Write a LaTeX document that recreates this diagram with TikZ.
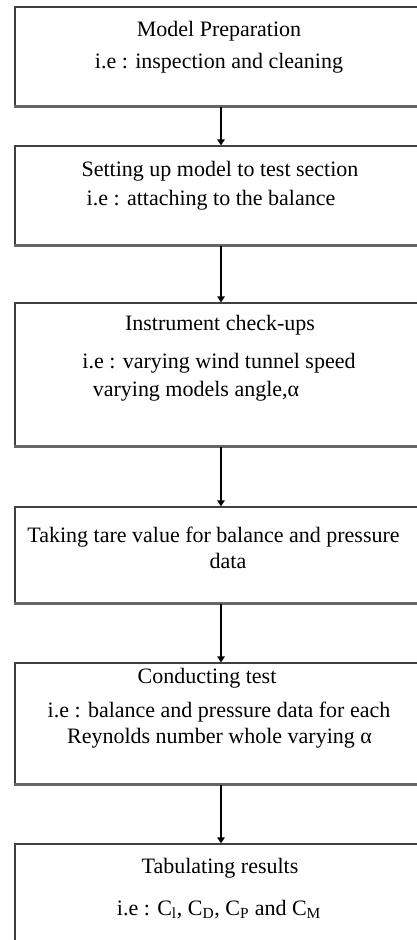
\documentclass[tikz,border=0pt]{standalone}
\usepackage{fontspec}
\setmainfont{Liberation Serif}
\usetikzlibrary{arrows.meta}
\begin{document}
\begin{tikzpicture}[x=0.75pt, y=-0.75pt,
    stepbox/.style={draw=black!75, line width=0.9pt, minimum width=309pt, inner sep=0pt},
    boxfoot/.style={draw=black!60, line width=1.8pt},
    flow/.style={line width=1.3pt, -{Triangle[width=5.5pt,length=4.5pt]}},
    steptext/.style={anchor=base, inner sep=0pt, font=\fontsize{16.5}{19.8}\selectfont}]
    \useasboundingbox (0,0) rectangle (417,940);
    \pgfmathsetmacro{\boxx}{221} %all boxes share one centre line
    %% boxes, top to bottom (units are pixels of the page, y going down)
    \node[stepbox, minimum height=74.25pt] (prep) at (\boxx, 56.5) {};
    \node[stepbox, minimum height=74.25pt] (setup) at (\boxx, 195.5) {};
    \node[stepbox, minimum height=107.25pt] (check) at (\boxx, 374.5) {};
    \node[stepbox, minimum height=72pt] (tare) at (\boxx, 555) {};
    \node[stepbox, minimum height=90.75pt] (test) at (\boxx, 723.5) {};
    \node[stepbox, minimum height=105pt] (result) at (\boxx, 914) {};
    
    \foreach \b in {prep, setup, check, tare, test}
    {
        \draw[boxfoot] (\b.south west) -- (\b.south east);
    };
    
    \draw[flow] (prep.south) -- (setup.north);
    \draw[flow] (setup.south) -- (check.north);
    \draw[flow] (check.south) -- (tare.north);
    \draw[flow] (tare.south) -- (test.north);
    \draw[flow] (test.south) -- (result.north);
    
    \foreach \x/\y/\t [count=\i] in 
    {219/36.7/Model Preparation,
        219/68.3/i.e : inspection and cleaning,
        220/176/Setting up model to test section,
        211/205/i.e : attaching to the balance,
        220/330.7/Instrument check-ups,
        219/368.3/i.e : varying wind tunnel speed,
        196/396.7/{varying models angle,α},
        213.5/542/Taking tare value for balance and pressure,
        228/568/data,
        207/683/Conducting test,
        219/717/i.e : balance and pressure data for each,
        219.5/743/Reynolds number whole varying α,
        220/873/Tabulating results,
        219/915/{i.e : C\textsubscript{l}, C\textsubscript{D}, C\textsubscript{P} and C\textsubscript{M}}
    }
    {
        \node[steptext] (line\i) at (\x,\y) {\t};
    };
\end{tikzpicture}
\end{document}
